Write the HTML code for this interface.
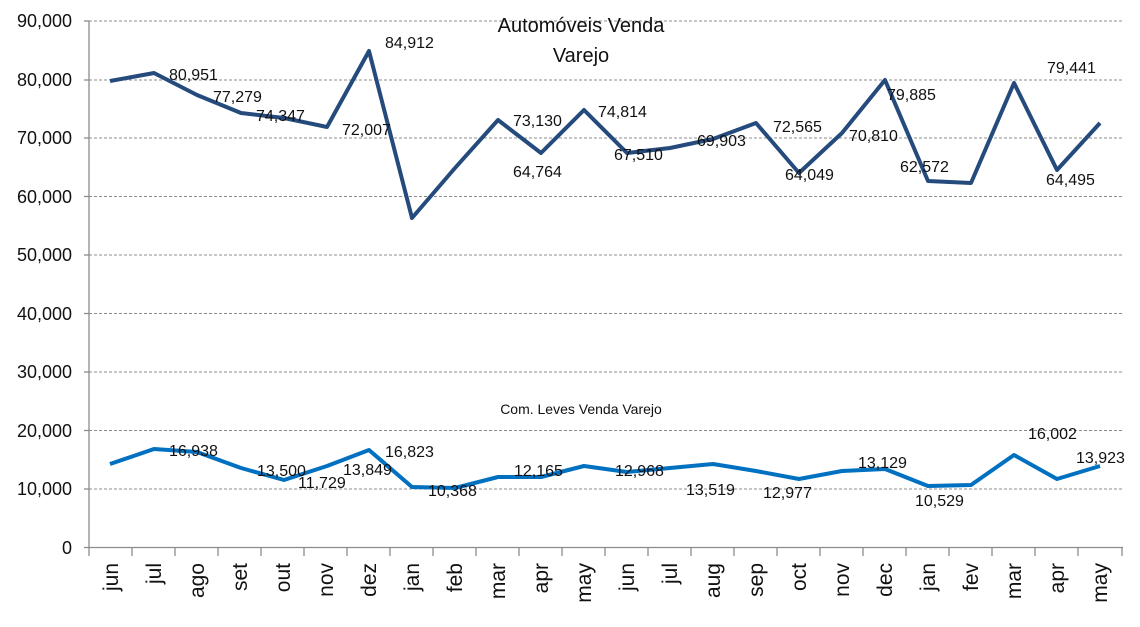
<!DOCTYPE html>
<html><head><meta charset="utf-8"><style>
html,body{margin:0;padding:0;background:#fff;}
svg{display:block;font-family:"Liberation Sans",sans-serif;}
</style></head><body>
<svg width="1140" height="627" viewBox="0 0 1140 627" xmlns="http://www.w3.org/2000/svg">
<g stroke="#8c8c8c" stroke-width="1" stroke-dasharray="3,2">
<line x1="89" y1="21" x2="1123" y2="21"/>
<line x1="89" y1="80" x2="1123" y2="80"/>
<line x1="89" y1="138" x2="1123" y2="138"/>
<line x1="89" y1="196.5" x2="1123" y2="196.5"/>
<line x1="89" y1="255" x2="1123" y2="255"/>
<line x1="89" y1="313.5" x2="1123" y2="313.5"/>
<line x1="89" y1="372" x2="1123" y2="372"/>
<line x1="89" y1="430.5" x2="1123" y2="430.5"/>
<line x1="89" y1="489" x2="1123" y2="489"/>
</g>
<g stroke="#8c8c8c" stroke-width="1.3">
<line x1="89" y1="21" x2="89" y2="548"/>
<line x1="84" y1="547.5" x2="1123" y2="547.5"/>
<line x1="84" y1="21" x2="89" y2="21"/><line x1="84" y1="80" x2="89" y2="80"/><line x1="84" y1="138" x2="89" y2="138"/><line x1="84" y1="196.5" x2="89" y2="196.5"/><line x1="84" y1="255" x2="89" y2="255"/><line x1="84" y1="313.5" x2="89" y2="313.5"/><line x1="84" y1="372" x2="89" y2="372"/><line x1="84" y1="430.5" x2="89" y2="430.5"/><line x1="84" y1="489" x2="89" y2="489"/>
<path d="M89 548v8M132 548v8M175 548v8M218 548v8M261 548v8M304 548v8M347 548v8M390 548v8M433 548v8M476 548v8M519 548v8M562 548v8M605 548v8M648 548v8M691 548v8M734 548v8M777 548v8M820 548v8M863 548v8M906 548v8M949 548v8M992 548v8M1035 548v8M1078 548v8M1122 548v8"/>
</g>
<g font-size="18" fill="#111" text-anchor="end">
<text x="72" y="27">90,000</text><text x="72" y="86">80,000</text><text x="72" y="144">70,000</text><text x="72" y="203">60,000</text><text x="72" y="261">50,000</text><text x="72" y="320">40,000</text><text x="72" y="378">30,000</text><text x="72" y="437">20,000</text><text x="72" y="495">10,000</text><text x="72" y="554">0</text>
</g>
<polyline fill="none" stroke="#254a7c" stroke-width="4" stroke-linejoin="round" points="110,81 154,73 197,95 241,113 284,118 327,127 369,51 412,218 455,168 498,120 541,153 584,110 627,153 670,148 713,139 756,123 799,173 842,133 885,80 928,181 971,183 1014,83 1057,170 1100,123"/>
<polyline fill="none" stroke="#0070c0" stroke-width="4" stroke-linejoin="round" points="110,464 154,449 197,452 241,468 284,480 327,466 369,450 412,487 455,488 498,477 541,477 584,466 627,472 670,468 713,464 756,471 799,479 842,471 885,469 928,486 971,485 1014,455 1057,479 1100,466"/>
<g font-size="16" fill="#111">
<text x="169" y="80">80,951</text><text x="213" y="102">77,279</text><text x="256" y="121">74,347</text><text x="342" y="135">72,007</text><text x="385" y="48">84,912</text>
<text x="513" y="177">64,764</text><text x="513" y="126">73,130</text><text x="598" y="117">74,814</text><text x="614" y="160">67,510</text><text x="697" y="146">69,903</text><text x="773" y="132">72,565</text><text x="785" y="180">64,049</text><text x="849" y="141">70,810</text><text x="887" y="100">79,885</text><text x="900" y="172">62,572</text><text x="1047" y="73">79,441</text><text x="1046" y="185">64,495</text>
<text x="169" y="456">16,938</text><text x="257" y="476">13,500</text><text x="298" y="488">11,729</text><text x="343" y="475">13,849</text><text x="385" y="457">16,823</text><text x="428" y="496">10,368</text><text x="514" y="476">12,165</text><text x="615" y="476">12,968</text><text x="686" y="495">13,519</text><text x="763" y="498">12,977</text><text x="858" y="468">13,129</text><text x="915" y="506">10,529</text><text x="1028" y="439">16,002</text><text x="1076" y="463">13,923</text>
</g>
<g font-size="20" fill="#111" text-anchor="middle">
<text x="581" y="32">Automóveis Venda</text><text x="581" y="62">Varejo</text>
</g>
<text x="581" y="414" font-size="14" fill="#111" text-anchor="middle">Com. Leves Venda Varejo</text>
<g font-size="21" fill="#111" text-anchor="end">
<text transform="translate(118,563) rotate(-90)">jun</text>
<text transform="translate(161,563) rotate(-90)">jul</text>
<text transform="translate(204,563) rotate(-90)">ago</text>
<text transform="translate(247,563) rotate(-90)">set</text>
<text transform="translate(290,563) rotate(-90)">out</text>
<text transform="translate(333,563) rotate(-90)">nov</text>
<text transform="translate(376,563) rotate(-90)">dez</text>
<text transform="translate(419,563) rotate(-90)">jan</text>
<text transform="translate(462,563) rotate(-90)">feb</text>
<text transform="translate(505,563) rotate(-90)">mar</text>
<text transform="translate(548,563) rotate(-90)">apr</text>
<text transform="translate(591,563) rotate(-90)">may</text>
<text transform="translate(634,563) rotate(-90)">jun</text>
<text transform="translate(677,563) rotate(-90)">jul</text>
<text transform="translate(720,563) rotate(-90)">aug</text>
<text transform="translate(763,563) rotate(-90)">sep</text>
<text transform="translate(806,563) rotate(-90)">oct</text>
<text transform="translate(849,563) rotate(-90)">nov</text>
<text transform="translate(892,563) rotate(-90)">dec</text>
<text transform="translate(935,563) rotate(-90)">jan</text>
<text transform="translate(978,563) rotate(-90)">fev</text>
<text transform="translate(1021,563) rotate(-90)">mar</text>
<text transform="translate(1064,563) rotate(-90)">apr</text>
<text transform="translate(1107,563) rotate(-90)">may</text>
</g>
</svg>
</body></html>
